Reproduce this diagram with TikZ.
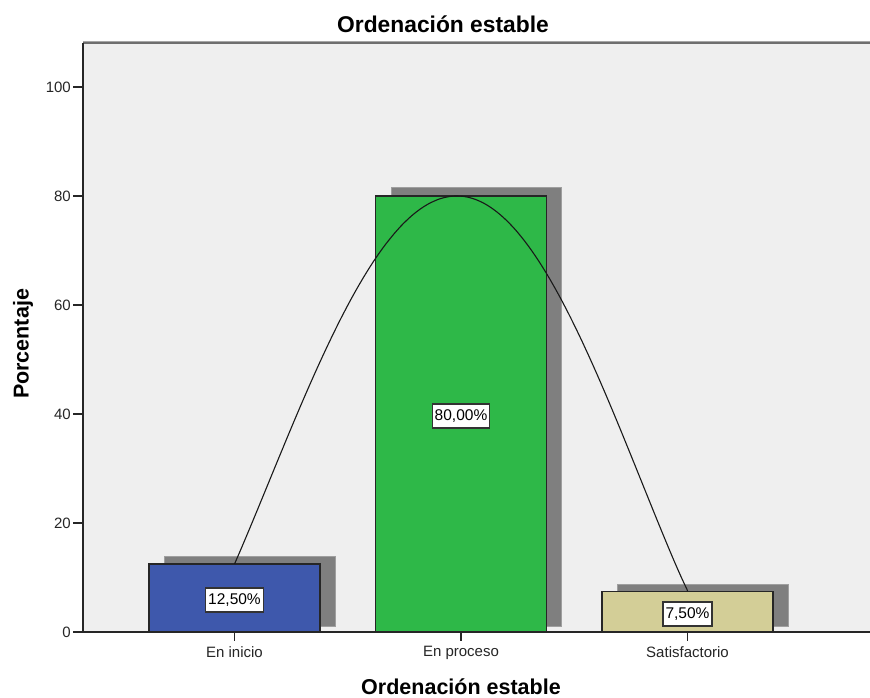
\documentclass[tikz,border=0pt]{standalone}
\usepackage{fontspec}
\setmainfont{Liberation Sans}
\definecolor{plotbg}{HTML}{EFEFEF}
\definecolor{barblue}{HTML}{3E58AC}
\definecolor{bargreen}{HTML}{2EB848}
\definecolor{bartan}{HTML}{D3CE97}
\definecolor{shadowgray}{HTML}{7F7F7F}
\definecolor{framegray}{HTML}{6E6E6E}

\begin{document}
\begin{tikzpicture}[x=1pt,y=-1pt,
  bar/.style={draw=black!85, line width=1.2pt, minimum width=171pt,
              anchor=south, inner sep=0pt, outer sep=0pt},
  shadowbox/.style={fill=shadowgray, draw=shadowgray!75, line width=0.8pt},
  pct/.style={draw=black!80, fill=white, line width=1.1pt, inner sep=2.5pt,
              minimum height=24pt, font=\fontsize{15.5}{16}\selectfont},
  ticklabel/.style={font=\fontsize{15}{16}\selectfont, inner sep=0pt, text=black!85},
  axistitle/.style={font=\bfseries\fontsize{21.5}{22}\selectfont, inner sep=0pt},
  axisline/.style={black!85, line width=1.4pt},
]
\useasboundingbox (0,0) rectangle (870,698);
\fill[white] (0,0) rectangle (870,698);

% plot area
\fill[plotbg] (83,43) rectangle (870,632);
\draw[black!35, line width=1pt] (83,41.5) -- (870,41.5);
\draw[framegray, line width=2pt] (83,43.3) -- (870,43.3);

% title
\node[font=\bfseries\fontsize{22.8}{23}\selectfont, inner sep=0pt] (title) at (443,24) {Ordenación estable};

% y axis with ticks
\draw[axisline] (83,43) -- (83,632);
\foreach \v in {0,20,40,60,80,100}{
  \coordinate (yt\v) at (83,632-5.45*\v);
  \draw[axisline] (yt\v) -- ++(-10,0) coordinate (ytl\v);
  \node[ticklabel, anchor=east] (ylab\v) at ([xshift=-2pt]ytl\v) {\v};
}
\node[axistitle, rotate=90] (ytitle) at (23,344) {Porcentaje};

% bar shadows
\filldraw[shadowbox] (164,556) rectangle (335,626);
\filldraw[shadowbox] (391,187) rectangle (561,626);
\filldraw[shadowbox] (617,584) rectangle (788,626);

% bars
\node[bar, fill=barblue,  minimum height=68.1pt] (b1) at (234.5,632) {};
\node[bar, fill=bargreen, minimum height=436pt]  (b2) at (461,632)   {};
\node[bar, fill=bartan,   minimum height=40.9pt] (b3) at (687.5,632) {};

% x axis
\draw[axisline] (83,632) -- (870,632);
\foreach \b/\t in {b1/En inicio, b2/En proceso, b3/Satisfactorio}{
  \draw[axisline] (\b.south) -- ++(0,9) coordinate (\b tick);
  \node[ticklabel, anchor=north] (\b lab) at ([yshift=-5pt]\b tick) {\t};
}
\node[axistitle] (xtitle) at (461,687) {Ordenación estable};

% fitted curve over the bars (peak 80 at x = 457)
\draw[black!90, line width=1.1pt, line join=round]
  (b1.north)
  -- plot[domain=235:457, samples=80]
       (\x, {632-436*exp(1.2*ln(cos(0.34938*(\x-457))))})
  -- plot[domain=457:687, samples=80]
       (\x, {632-436*exp(1.2*ln(cos(0.35587*(\x-457))))})
  -- (b3.north);

% value labels
\node[pct] (p1) at (234.5,600) {12,50\%};
\node[pct] (p2) at (461,416)   {80,00\%};
\node[pct] (p3) at (687.5,614) {7,50\%};
\end{tikzpicture}
\end{document}
